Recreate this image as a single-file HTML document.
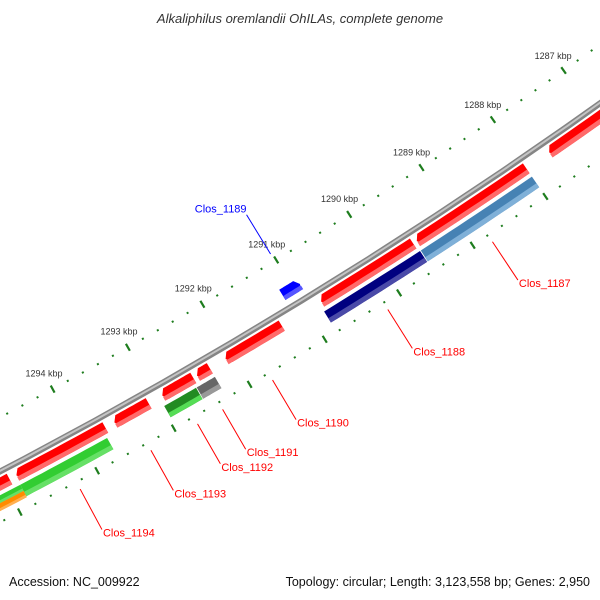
<!DOCTYPE html>
<html><head><meta charset="utf-8"><style>
body{margin:0;background:#fff}
svg{display:block;font-family:"Liberation Sans",sans-serif}
</style></head><body>
<svg id="map" width="600" height="600" viewBox="0 0 600 600" xmlns="http://www.w3.org/2000/svg">
<rect width="600" height="600" fill="#fff"/>
<text x="300" y="23" text-anchor="middle" font-style="italic" font-size="13" fill="#333">Alkaliphilus oremlandii OhILAs, complete genome</text>
<g id="ticks"></g>
<g id="feats"></g>
<g id="labels"></g>
<text x="9" y="586" font-size="12.5" fill="#111">Accession: NC_009922</text>
<text x="590" y="586" text-anchor="end" font-size="12.5" fill="#111">Topology: circular; Length: 3,123,558 bp; Genes: 2,950</text>
</svg>
<script>
// data
const tickMajors = [1286,1287,1288,1289,1290,1291,1292,1293,1294,1295,1296];
const tickLabels = ["1286 kbp","1287 kbp","1288 kbp","1289 kbp","1290 kbp","1291 kbp","1292 kbp","1293 kbp","1294 kbp","1295 kbp","1296 kbp"];
const featNames = ["f-a","f-b","Clos_1190","f-d","f-e","f-f","f-g","f-h","f-i","Clos_1188","Clos_1187","Clos_1191","Clos_1192","Clos_1194","f-o","f-p","Clos_1189"];
const featStart = [1286.0,1288.0,1289.56,1291.34,1292.30,1292.52,1293.11,1293.68,1294.93,1289.54,1288.0,1292.30,1292.55,1293.72,1294.85,1294.85,1290.91];
const featEnd   = [1287.68,1289.51,1290.81,1292.09,1292.47,1292.93,1293.56,1294.84,1296.2,1290.84,1289.53,1292.54,1292.97,1294.85,1296.2,1296.2,1291.15];
const featRing  = [1,1,1,1,1,1,1,1,1,2,2,2,2,2,3,4,0];
const featColor = ["#ff0000","#ff0000","#ff0000","#ff0000","#ff0000","#ff0000","#ff0000","#ff0000","#ff0000","#000080","#4682b4","#666666","#228b22","#32cd32","#32cd32","#ff8c00","#0000ff"];
const featLight = ["#ff6a6a","#ff6a6a","#ff6a6a","#ff6a6a","#ff6a6a","#ff6a6a","#ff6a6a","#ff6a6a","#ff6a6a","#4a4aa8","#7fb0d8","#999999","#55dd55","#66e066","#66e066","#ffb050","#5555ff"];
const featArrow = [1,1,1,1,1,1,1,1,1,0,0,0,0,0,0,0,-1];
const labelNames = ["Clos_1187","Clos_1188","Clos_1190","Clos_1191","Clos_1192","Clos_1193","Clos_1194"];
const labelKbp = [1288.79,1290.21,1291.75,1292.41,1292.74,1293.35,1294.27];

const CX=-2397, CY=-4108, A0=57.57, DA=0.963;
const ringIn =[5148,5174,5190,5190,5197];
const ringOut=[5160,5186,5203,5197,5204];
function pt(k,r){const a=(A0+(k-1290)*DA)*Math.PI/180;return [CX+r*Math.cos(a),CY+r*Math.sin(a)];}
const NS="http://www.w3.org/2000/svg";
function mk(tag,attrs,parent){const e=document.createElementNS(NS,tag);for(const k in attrs)e.setAttribute(k,attrs[k]);parent.appendChild(e);return e;}
function arcPts(k0,k1,r){const p=[];const n=12;for(let i=0;i<=n;i++){p.push(pt(k0+(k1-k0)*i/n,r));}return p;}
function band(k0,k1,r0,r1,arrow){
  // arrow 1: tip at k1 (larger kbp); -1: tip at k0
  const ah=0.05;
  let a0=k0,a1=k1;
  if(arrow===1)a1=Math.max(k0,k1-ah);
  if(arrow===-1)a0=Math.min(k1,k0+ah);
  let P=arcPts(a0,a1,r0);
  if(arrow===1)P.push(pt(k1,(r0+r1)/2));
  P=P.concat(arcPts(a1,a0,r1));
  if(arrow===-1)P.push(pt(k0,(r0+r1)/2));
  return P.map(p=>p[0].toFixed(1)+","+p[1].toFixed(1)).join(" ");
}
const tg=document.getElementById('ticks'), fg=document.getElementById('feats'), lg=document.getElementById('labels');
// backbone
{const bb=mk('polygon',{points:band(1285.5,1296.5,5166,5172,0),fill:'#858585'},fg);


const hl=mk('polygon',{points:band(1285.5,1296.5,5167.5,5169.5,0),fill:'#c4c4c4'},fg);

}
// ticks
[5121,5214].forEach((r,ri)=>{
  for(let i=0;i<=50;i++){
    const k=1286+i*0.2;
    const major=Math.abs(k-Math.round(k))<1e-6;
    const h=major?4:1;
    const p0=pt(k,r-h),p1=pt(k,r+h);
    const l=mk('line',{x1:p0[0],y1:p0[1],x2:p1[0],y2:p1[1],stroke:'#1e7d1e','stroke-width':major?2.2:2},tg);
    
    
  }
});
tickMajors.forEach((k,i)=>{
  const p=pt(k,5103);
  const t=mk('text',{x:p[0],y:p[1]+3,'text-anchor':'middle','font-size':'9',fill:'#333'},tg);
  t.textContent=tickLabels[i];
  
  
});
// features
featNames.forEach((n,i)=>{
  const rg=featRing[i], r0=ringIn[rg], r1=ringOut[rg];
  const g=mk('g',{},fg);
  
  
  mk('polygon',{points:band(featStart[i],featEnd[i],r0,r1,featArrow[i]),fill:featColor[i]},g);
  const rm=r0+(r1-r0)*0.62;
  mk('polygon',{points:band(featStart[i],featEnd[i],rm,r1,0),fill:featLight[i]},g);
});
// labels
labelNames.forEach((n,i)=>{
  const a=pt(labelKbp[i],5222),b=pt(labelKbp[i],5268);
  const l=mk('line',{x1:a[0],y1:a[1],x2:b[0],y2:b[1],stroke:'#ff0000','stroke-width':1},lg);
  
  
  const t=mk('text',{x:b[0]+1,y:b[1]+7,'font-size':'11',fill:'#ff0000'},lg);
  t.textContent=n;
  
  
});
{const a=pt(1291.02,5113),b=pt(1291.02,5067);
const l=mk('line',{x1:a[0],y1:a[1],x2:b[0],y2:b[1],stroke:'#0000ff','stroke-width':1},lg);


const t=mk('text',{x:b[0],y:b[1]-2,'text-anchor':'end','font-size':'11',fill:'#0000ff'},lg);
t.textContent='Clos_1189';

}
</script>
</body></html>
